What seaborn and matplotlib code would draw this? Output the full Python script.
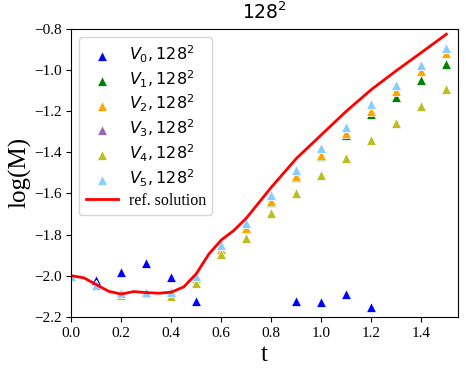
import numpy as np
import pandas as pd
import matplotlib
matplotlib.use("Agg")
import matplotlib.pyplot as plt
import seaborn as sns

plt.rcParams['font.family'] = ['Liberation Serif', 'DejaVu Serif']
plt.rcParams['mathtext.fontset'] = 'dejavusans'

t = [0.0, 0.1, 0.2, 0.3, 0.4, 0.5, 0.6, 0.7, 0.8, 0.9, 1.0, 1.1, 1.2, 1.3, 1.4, 1.5]
V0 = [-2.0, -2.02, -1.98, -1.939, -2.007, -2.122, np.nan, np.nan, np.nan,
      -2.121, -2.126, -2.088, -2.150, np.nan, np.nan, np.nan]
V1 = [-2.0, -2.045, -2.085, -2.077, -2.077, -2.009, -1.871, -1.766, -1.643,
      -1.518, -1.417, -1.315, -1.215, -1.132, -1.048, -0.972]
V2 = [-2.0, -2.045, -2.085, -2.077, -2.077, -2.009, -1.871, -1.766, -1.636,
      -1.513, -1.413, -1.307, -1.197, -1.101, -1.007, -0.918]
V3 = [-2.0, -2.045, -2.085, -2.077, -2.077, -2.0, -1.85, -1.742, -1.607,
      -1.485, -1.380, -1.275, -1.166, -1.072, -0.975, -0.891]
V4 = [-2.0, -2.045, -2.093, -2.085, -2.097, -2.033, -1.895, -1.815, -1.696,
      -1.596, -1.510, -1.429, -1.340, -1.256, -1.173, -1.093]
V5 = [-2.0, -2.045, -2.085, -2.077, -2.077, -2.0, -1.85, -1.742, -1.607,
      -1.485, -1.380, -1.275, -1.166, -1.072, -0.975, -0.891]

t_ref = [0.0, 0.05, 0.1, 0.15, 0.2, 0.25, 0.3, 0.35, 0.4, 0.45, 0.5, 0.55,
         0.6, 0.65, 0.7, 0.75, 0.8, 0.9, 1.0, 1.1, 1.2, 1.3, 1.4, 1.5]
M_ref = [-2.0, -2.010, -2.043, -2.076, -2.089, -2.077, -2.082, -2.085, -2.080,
         -2.054, -1.99, -1.895, -1.826, -1.78, -1.72, -1.645, -1.57, -1.43,
         -1.315, -1.20, -1.095, -1.003, -0.915, -0.826]

series = [V0, V1, V2, V3, V4, V5]
labels = [r'$V_{%d}, 128^2$' % i for i in range(6)]
colors = ['blue', 'green', 'orange', 'tab:purple', 'tab:olive', 'lightskyblue']

fig = plt.figure(figsize=(4.66, 3.75), dpi=100)
ax = fig.add_axes([0.153, 0.155, 0.829, 0.768])

for vals, lab, col in zip(series, labels, colors):
    df = pd.DataFrame({'t': t, 'M': vals})
    sns.scatterplot(data=df, x='t', y='M', color=col, marker='^', s=50,
                    edgecolor='white', linewidth=0.5, label=lab, ax=ax)

ref = pd.DataFrame({'t': t_ref, 'M': M_ref})
sns.lineplot(data=ref, x='t', y='M', color='red', linewidth=2,
             label='ref. solution', ax=ax)

ax.set_xlim(0, 1.545)
ax.set_ylim(-2.2, -0.8)
ax.set_xticks([0.0, 0.2, 0.4, 0.6, 0.8, 1.0, 1.2, 1.4])
ax.set_yticks([-2.2, -2.0, -1.8, -1.6, -1.4, -1.2, -1.0, -0.8])
ax.tick_params(labelsize=11)
ax.set_xlabel('t', fontsize=18, labelpad=3)
ax.set_ylabel('log(M)', fontsize=18, labelpad=2)
ax.set_title(r'$128^2$', fontsize=13.5, pad=7)
ax.legend(loc='upper left', fontsize=11.5, labelspacing=0.22,
          borderaxespad=0.5, handletextpad=0.7)

fig.savefig('out.png', dpi=100)
